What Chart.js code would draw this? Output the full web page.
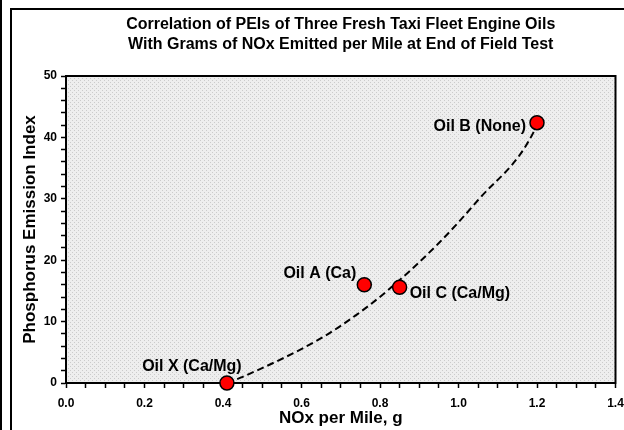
<!DOCTYPE html>
<html>
<head>
<meta charset="utf-8">
<script src="https://cdn.jsdelivr.net/npm/chart.js@4/dist/chart.umd.min.js"></script>
<style>
html,body{margin:0;padding:0;background:#fff;}
#wrap{width:624px;height:430px;}
</style>
</head>
<body>
<div id="wrap"><canvas id="c" width="624" height="430"></canvas></div>
<script>
// ---- data ----
const oilNames   = ['Oil X (Ca/Mg)', 'Oil A (Ca)', 'Oil C (Ca/Mg)', 'Oil B (None)'];
const noxPerMile = [0.41, 0.76, 0.85, 1.20];
const peiValues  = [0, 16.0, 15.6, 42.4];
// dashed trend curve
const trendNox = [0.41, 0.45, 0.65, 0.74, 0.82, 0.95, 1.05, 1.19, 1.20];
const trendPei = [0, 1.0, 7.3, 11.1, 15.1, 22.8, 29.8, 40.7, 42.4];
// axis tick labels
const xTickLabels = ['0.0', '0.2', '0.4', '0.6', '0.8', '1.0', '1.2', '1.4'];
const yTickLabels = ['0', '10', '20', '30', '40', '50'];

// ---- styling (label placement relative to each point, in px) ----
const labelStyle = [
  {dx: -35, dy: -16, align: 'center'},
  {dx: -8,  dy: -11, align: 'right'},
  {dx: 10,  dy: 6,   align: 'left'},
  {dx: -11, dy: 4,   align: 'right'}
];
const FONT = '"Liberation Sans", Arial, Helvetica, sans-serif';

function makePattern(ctx) {
  const p = document.createElement('canvas');
  p.width = 4; p.height = 4;
  const g = p.getContext('2d');
  g.fillStyle = '#eeeeee'; g.fillRect(0, 0, 4, 4);
  g.fillStyle = '#cbcbcb';
  g.fillRect(0, 0, 1, 1); g.fillRect(2, 2, 1, 1);
  return ctx.createPattern(p, 'repeat');
}

const decor = {
  id: 'decor',
  beforeDraw(chart) {
    const ctx = chart.ctx, a = chart.chartArea;
    ctx.save();
    ctx.fillStyle = '#fff';
    ctx.fillRect(0, 0, chart.width, chart.height);
    // outer frame
    ctx.fillStyle = '#000';
    ctx.fillRect(0, 0, 2, chart.height);
    ctx.fillRect(10, 8, 2, chart.height - 8);
    ctx.fillRect(10, 8, chart.width - 10, 2);
    // plot background
    ctx.fillStyle = makePattern(ctx);
    ctx.fillRect(a.left, a.top, a.right - a.left, a.bottom - a.top);
    ctx.restore();
  },
  beforeDatasetsDraw(chart) {
    const ctx = chart.ctx, a = chart.chartArea;
    ctx.save();
    ctx.strokeStyle = '#000';
    ctx.lineWidth = 2;
    ctx.strokeRect(a.left, a.top, a.right - a.left, a.bottom - a.top);
    ctx.restore();
  },
  afterDatasetsDraw(chart) {
    const ctx = chart.ctx;
    const xs = chart.scales.x, ys = chart.scales.y;
    ctx.save();
    ctx.fillStyle = '#000';
    ctx.font = 'bold 16px ' + FONT;
    ctx.textBaseline = 'middle';
    oilNames.forEach((name, i) => {
      const s = labelStyle[i];
      const px = xs.getPixelForValue(noxPerMile[i]);
      const py = ys.getPixelForValue(peiValues[i]);
      ctx.textAlign = s.align;
      ctx.fillText(name, px + s.dx, py + s.dy);
    });
    ctx.restore();
  }
};

const near = (v, step) => Math.abs(v / step - Math.round(v / step)) < 1e-6;

new Chart(document.getElementById('c'), {
  type: 'scatter',
  data: {
    datasets: [
      {
        label: 'Trend',
        type: 'line',
        data: trendNox.map((x, i) => ({x: x, y: trendPei[i]})),
        borderColor: '#000',
        borderWidth: 2,
        borderDash: [7, 4],
        pointRadius: 0,
        fill: false,
        cubicInterpolationMode: 'monotone',
        clip: false,
        order: 2
      },
      {
        label: 'Oils',
        data: noxPerMile.map((x, i) => ({x: x, y: peiValues[i]})),
        backgroundColor: '#ff0000',
        borderColor: '#000',
        borderWidth: 1.5,
        pointRadius: 7,
        pointHoverRadius: 7,
        clip: false,
        order: 1
      }
    ]
  },
  options: {
    responsive: false,
    devicePixelRatio: 1,
    animation: false,
    events: [],
    layout: {padding: {left: 14, right: 7, top: 0, bottom: 0}},
    plugins: {
      legend: {display: false},
      tooltip: {enabled: false},
      title: {
        display: true,
        fullSize: false,
        text: ['Correlation of PEIs of Three Fresh Taxi Fleet Engine Oils',
               'With Grams of NOx Emitted per Mile at End of Field Test'],
        color: '#000',
        font: {family: FONT, size: 16, weight: 'bold', lineHeight: 1.25},
        padding: {top: 15, bottom: 21}
      }
    },
    scales: {
      x: {
        type: 'linear',
        min: 0, max: 1.4,
        afterFit(s) { s.height = 47; s.paddingLeft = 0; s.paddingRight = 0; },
        ticks: {
          stepSize: 0.05,
          autoSkip: false,
          maxRotation: 0,
          padding: 8,
          color: '#000',
          font: {family: FONT, size: 12, weight: 'bold'},
          callback: (v) => near(v, 0.2) ? xTickLabels[Math.round(v / 0.2)] : ''
        },
        grid: {drawOnChartArea: false, drawTicks: true, tickLength: 5, tickColor: '#000', tickWidth: 1.5},
        border: {display: true, color: '#000', width: 2},
        title: {
          display: true, text: 'NOx per Mile, g', color: '#000',
          font: {family: FONT, size: 17, weight: 'bold'},
          padding: {top: 0, bottom: 1}
        }
      },
      y: {
        type: 'linear',
        min: 0, max: 50,
        afterFit(s) { s.width = 52; s.paddingTop = 0; s.paddingBottom = 0; },
        ticks: {
          stepSize: 2,
          autoSkip: false,
          padding: 4,
          color: '#000',
          font: {family: FONT, size: 12, weight: 'bold'},
          callback: (v) => near(v, 10) ? yTickLabels[Math.round(v / 10)] : ''
        },
        grid: {drawOnChartArea: false, drawTicks: true, tickLength: 5, tickColor: '#000', tickWidth: 1.5},
        border: {display: true, color: '#000', width: 2},
        title: {
          display: true, text: 'Phosphorus Emission Index', color: '#000',
          font: {family: FONT, size: 17, weight: 'bold'},
          padding: {top: 6, bottom: 0}
        }
      }
    }
  },
  plugins: [decor]
});
</script>
</body>
</html>
